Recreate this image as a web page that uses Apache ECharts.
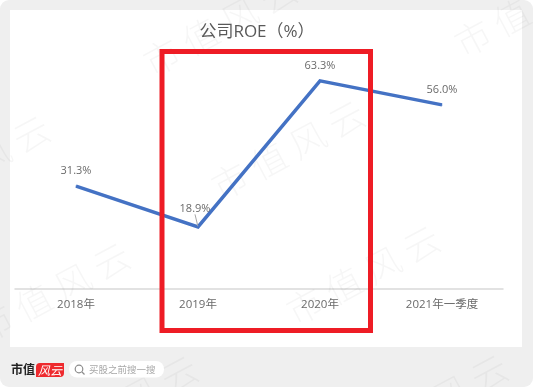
<!DOCTYPE html>
<html>
<head>
<meta charset="utf-8">
<style>
  html, body { margin: 0; padding: 0; background: #fff; }
  #chart { width: 533px; height: 387px; }
</style>
<script src="https://cdn.jsdelivr.net/npm/echarts@6/dist/echarts.min.js"></script>
</head>
<body>
<div id="chart"></div>
<script>
const categories = ['2018年', '2019年', '2020年', '2021年一季度'];
const roeValues = [31.3, 18.9, 63.3, 56.0];
const chartTitle = '公司ROE（%）';
const brandName = '市值';
const brandBadge = '风云';
const searchHint = '买股之前搜一搜';
const watermarkText = '市 值 风 云';

const cjkFont = '"Noto Sans CJK SC", "Noto Sans", sans-serif';
const latinFont = '"Open Sans", "Noto Sans CJK SC", sans-serif';

// 水印中心点
const watermarks = [
  [220, 26], [531, 7], [-27, 165], [53, 292], [288, 150],
  [363, 275], [121, 405], [431, 404]
];

const chart = echarts.init(document.getElementById('chart'));

const watermarkItems = watermarks.map(([x, y]) => ({
  type: 'text',
  x, y,
  rotation: 0.49,
  z: 2,
  style: {
    text: watermarkText,
    fill: '#000',
    opacity: 0.035,
    font: '300 36px ' + cjkFont,
    align: 'center',
    verticalAlign: 'middle'
  }
}));

// 2019 的标签带引导线
const seriesData = roeValues.map((value, i) => (
  i === 1 ? { value, labelLine: { show: true, length2: 0, lineStyle: { color: '#a6a6a6', width: 1 } } } : value
));

const option = {
  animation: false,
  title: {
    text: chartTitle,
    left: 252,
    top: 19,
    textAlign: 'center',
    textStyle: { color: '#595959', fontSize: 17, fontWeight: 'normal', fontFamily: latinFont }
  },
  grid: { left: 15, right: 30, top: 26, bottom: 98 },
  xAxis: {
    type: 'category',
    data: categories,
    axisTick: { show: false },
    axisLine: { lineStyle: { color: '#d9d9d9', width: 1.5 } },
    axisLabel: { color: '#6a6a6a', fontSize: 11.5, margin: 10, fontFamily: latinFont }
  },
  yAxis: { type: 'value', min: 0, max: 80, show: false },
  series: [{
    type: 'line',
    data: seriesData,
    symbol: 'circle',
    symbolSize: 1,
    itemStyle: { color: '#4472c4' },
    z: 5,
    lineStyle: { color: '#4472c4', width: 3.5, join: 'miter' },
    label: {
      show: true,
      position: 'top',
      distance: 9,
      color: '#6a6a6a',
      fontSize: 11,
      fontFamily: latinFont,
      formatter: (p) => (+p.value).toFixed(1) + '%'
    },
    labelLayout: (p) => (p.dataIndex === 1 ? { dx: -3, dy: -3 } : {})
  }],
  graphic: [
    { type: 'rect', z: -10, shape: { x: 0, y: 0, width: 533, height: 387, r: 9 }, style: { fill: '#efefef' } },
    { type: 'rect', z: -9, shape: { x: 10, y: 10, width: 512, height: 337 }, style: { fill: '#fff' } },
    ...watermarkItems,
    // 红色标注框
    { type: 'rect', z: 20, shape: { x: 162, y: 51.5, width: 208.5, height: 279 }, style: { fill: 'none', stroke: '#ee1c25', lineWidth: 5 } },
    // 底部品牌栏
    { type: 'text', z: 20, x: 11, y: 369, style: { text: brandName, fill: '#222', font: 'bold 12px ' + cjkFont, verticalAlign: 'middle' } },
    { type: 'rect', z: 20, shape: { x: 36, y: 363, width: 28, height: 14, r: [4, 0, 4, 0] }, style: { fill: '#ee2a2e' } },
    { type: 'text', z: 21, x: 50, y: 370, style: { text: brandBadge, fill: '#fff', font: 'italic 12px ' + cjkFont, align: 'center', verticalAlign: 'middle' } },
    { type: 'rect', z: 20, shape: { x: 69, y: 361, width: 95, height: 16.5, r: 8 }, style: { fill: '#fff' } },
    { type: 'circle', z: 21, shape: { cx: 79, cy: 369, r: 3.8 }, style: { fill: 'none', stroke: '#8c8c8c', lineWidth: 1.2 } },
    { type: 'line', z: 21, shape: { x1: 82, y1: 372, x2: 84.5, y2: 374.5 }, style: { stroke: '#8c8c8c', lineWidth: 1.2 } },
    { type: 'text', z: 21, x: 89, y: 369.5, style: { text: searchHint, fill: '#a8a8a8', font: '9.5px ' + cjkFont, verticalAlign: 'middle' } }
  ]
};

chart.setOption(option);
</script>
</body>
</html>
